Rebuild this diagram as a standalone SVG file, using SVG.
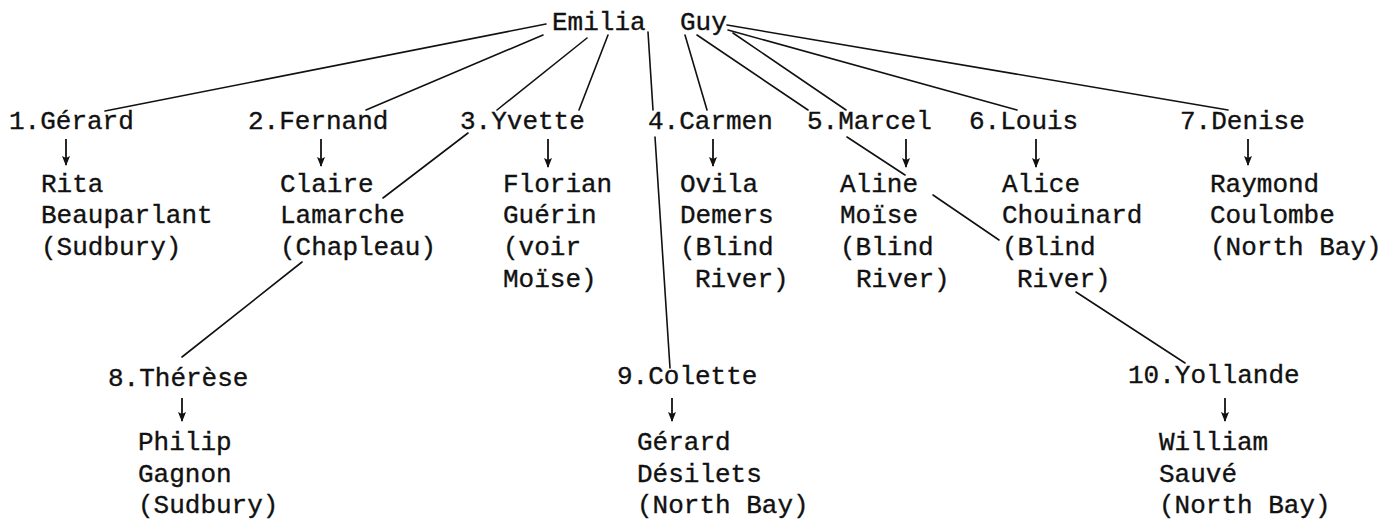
<svg xmlns="http://www.w3.org/2000/svg" width="1398" height="521" viewBox="0 0 1398 521">
<defs>
<style>
text{font-family:"Liberation Mono","DejaVu Sans Mono",monospace;font-size:26px;fill:#111;stroke:#111;stroke-width:0.35;}
.c line{stroke:#111;stroke-width:1.6;fill:none;stroke-linecap:round;}
.a line{stroke:#111;stroke-width:1.8;}
</style>
<marker id="ah" viewBox="0 0 10 10" refX="9" refY="5" markerWidth="10" markerHeight="10" markerUnits="userSpaceOnUse" orient="auto">
<path d="M0,1 L10,5 L0,9 L2,5 z" fill="#111"/>
</marker>
</defs>
<rect width="1398" height="521" fill="#fff"/>

<g id="connectors" class="c">
<line x1="546" y1="24" x2="105" y2="111"/>
<line x1="543" y1="35" x2="366" y2="110"/>
<line x1="587" y1="38" x2="497" y2="110"/>
<line x1="468" y1="133" x2="383" y2="198"/>
<line x1="302" y1="262" x2="182" y2="357"/>
<line x1="608" y1="35" x2="579" y2="110"/>
<line x1="648" y1="32" x2="653" y2="110"/>
<line x1="655" y1="137" x2="670" y2="368"/>
<line x1="685" y1="35" x2="707" y2="110"/>
<line x1="697" y1="35" x2="808" y2="110"/>
<line x1="847" y1="137" x2="905" y2="175"/>
<line x1="933" y1="195" x2="999" y2="240"/>
<line x1="1076" y1="292" x2="1185" y2="363"/>
<line x1="733" y1="33" x2="846" y2="110"/>
<line x1="728" y1="30" x2="1017" y2="110"/>
<line x1="727" y1="25" x2="1228" y2="110"/>
</g>

<g id="arrows" class="a">
<line x1="66" y1="139" x2="66" y2="165" marker-end="url(#ah)"/>
<line x1="321" y1="139" x2="321" y2="166" marker-end="url(#ah)"/>
<line x1="548" y1="139" x2="548" y2="167" marker-end="url(#ah)"/>
<line x1="713" y1="139" x2="713" y2="166" marker-end="url(#ah)"/>
<line x1="906" y1="139" x2="906" y2="167" marker-end="url(#ah)"/>
<line x1="1036" y1="139" x2="1036" y2="167" marker-end="url(#ah)"/>
<line x1="1248" y1="139" x2="1248" y2="165" marker-end="url(#ah)"/>
<line x1="182" y1="398" x2="182" y2="421" marker-end="url(#ah)"/>
<line x1="672" y1="398" x2="672" y2="421" marker-end="url(#ah)"/>
<line x1="1225" y1="398" x2="1225" y2="421" marker-end="url(#ah)"/>
</g>

<g id="parents">
<text x="552" y="30">Emilia</text>
<text x="680" y="30">Guy</text>
</g>

<g id="n1">
<text x="9" y="129">1.Gérard</text>
<text x="41" y="192">Rita</text>
<text x="41" y="223">Beauparlant</text>
<text x="41" y="255">(Sudbury)</text>
</g>
<g id="n2">
<text x="248" y="129">2.Fernand</text>
<text x="280" y="192">Claire</text>
<text x="280" y="223">Lamarche</text>
<text x="280" y="255">(Chapleau)</text>
</g>
<g id="n3">
<text x="460" y="129">3.Yvette</text>
<text x="503" y="192">Florian</text>
<text x="503" y="223">Guérin</text>
<text x="503" y="255">(voir</text>
<text x="503" y="287">Moïse)</text>
</g>
<g id="n4">
<text x="648" y="129">4.Carmen</text>
<text x="680" y="192">Ovila</text>
<text x="680" y="223">Demers</text>
<text x="680" y="255">(Blind</text>
<text x="695" y="287">River)</text>
</g>
<g id="n5">
<text x="807" y="129">5.Marcel</text>
<text x="840" y="192">Aline</text>
<text x="840" y="223">Moïse</text>
<text x="840" y="255">(Blind</text>
<text x="856" y="287">River)</text>
</g>
<g id="n6">
<text x="969" y="129">6.Louis</text>
<text x="1002" y="192">Alice</text>
<text x="1002" y="223">Chouinard</text>
<text x="1002" y="255">(Blind</text>
<text x="1017" y="287">River)</text>
</g>
<g id="n7">
<text x="1180" y="129">7.Denise</text>
<text x="1210" y="192">Raymond</text>
<text x="1210" y="223">Coulombe</text>
<text x="1210" y="255">(North Bay)</text>
</g>
<g id="n8">
<text x="108" y="386">8.Thérèse</text>
<text x="138" y="450">Philip</text>
<text x="138" y="482">Gagnon</text>
<text x="138" y="513">(Sudbury)</text>
</g>
<g id="n9">
<text x="617" y="384">9.Colette</text>
<text x="637" y="450">Gérard</text>
<text x="637" y="482">Désilets</text>
<text x="637" y="513">(North Bay)</text>
</g>
<g id="n10">
<text x="1128" y="383">10.Yollande</text>
<text x="1159" y="450">William</text>
<text x="1159" y="482">Sauvé</text>
<text x="1159" y="513">(North Bay)</text>
</g>
</svg>
